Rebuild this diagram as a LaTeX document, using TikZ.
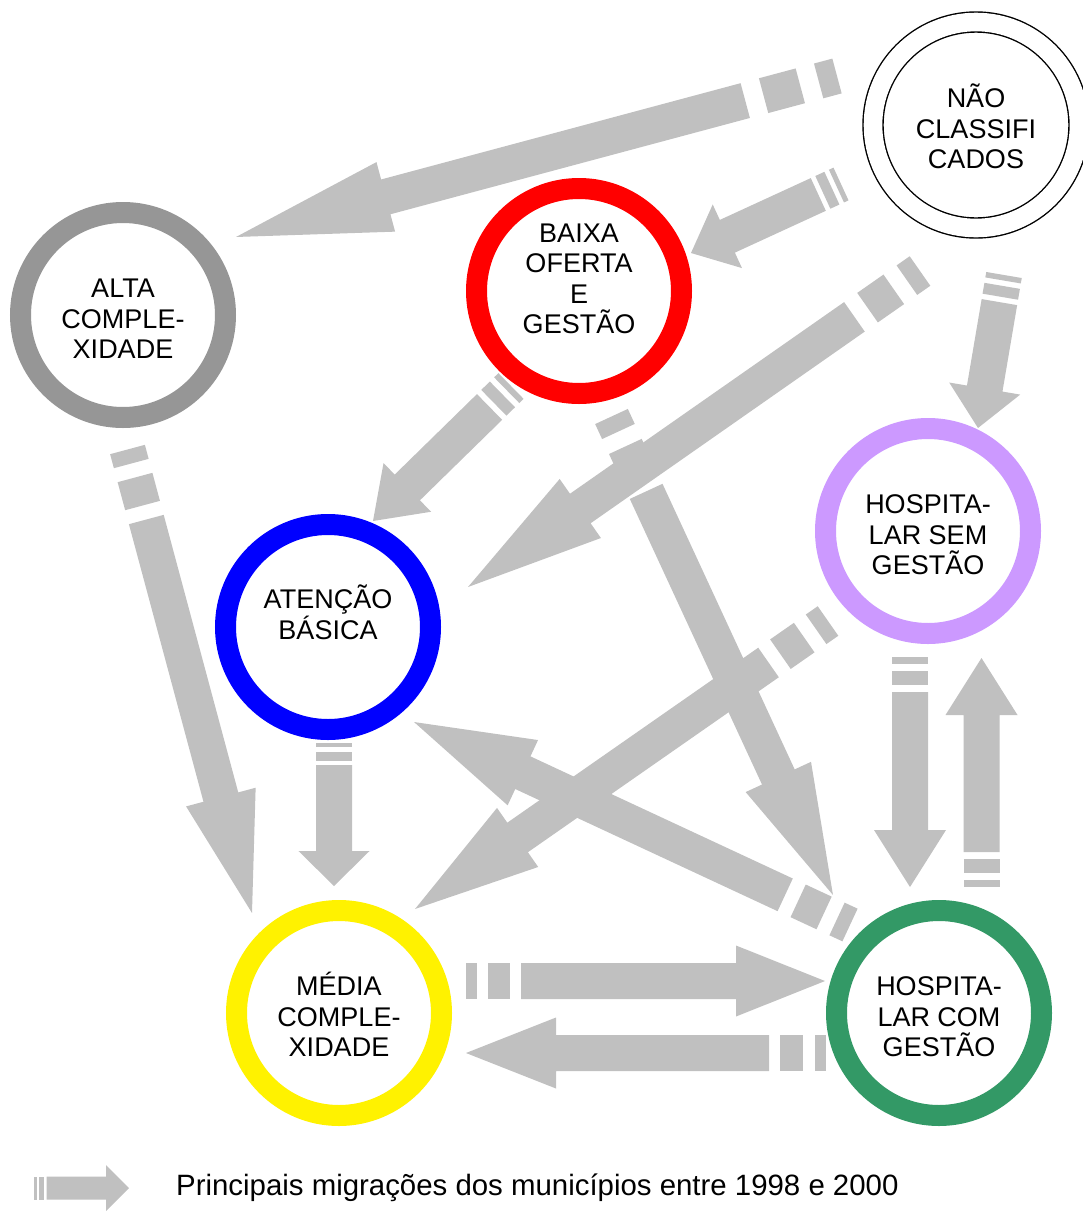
\documentclass[tikz,border=0pt]{standalone}
\usepackage{fontspec}
\setmainfont{Liberation Sans}
\usetikzlibrary{calc}

\definecolor{migray}{RGB}{192,192,192}
\definecolor{altagray}{RGB}{150,150,150}
\definecolor{hsemlilac}{RGB}{204,153,255}
\definecolor{hcomgreen}{RGB}{51,153,102}

% striped arrow: tail, tip, stripe unit, head length, body width, head width
\newcommand\migra[6]{%
  \path let \p1=(#1), \p2=(#2) in
    \pgfextra{\pgfmathsetmacro\mang{atan2(\y2-\y1,\x2-\x1)}\global\let\mang\mang
              \pgfmathsetmacro\mlen{veclen(\x2-\x1,\y2-\y1)}\global\let\mlen\mlen};
  \begin{scope}[shift={(#1)},rotate=\mang,x=1pt,y=1pt]
    \fill[migray] (0,-#5/2) rectangle (#3,#5/2);
    \fill[migray] (2*#3,-#5/2) rectangle (4*#3,#5/2);
    \fill[migray] (5*#3,-#5/2) -- (\mlen-#4,-#5/2) -- (\mlen-#4,-#6/2) -- (\mlen,0)
      -- (\mlen-#4,#6/2) -- (\mlen-#4,#5/2) -- (5*#3,#5/2) -- cycle;
  \end{scope}}

\begin{document}
\begin{tikzpicture}[x=1pt,y=-1pt,font=\fontsize{27}{30.5}\selectfont,
    ring/.style={circle,draw=#1,line width=21pt,minimum size=205pt,inner sep=0pt},
    lbl/.style={align=center,inner sep=0pt}]
  \useasboundingbox[fill=white] (0,0) rectangle (1083,1211);

  % ends of the migration arrows
  \coordinate (nc-alta-s) at (837,76);      \coordinate (nc-alta-e) at (236,237);
  \coordinate (nc-baixa-s) at (841,184);    \coordinate (nc-baixa-e) at (691,253);
  \coordinate (nc-aten-s) at (920,271);     \coordinate (nc-aten-e) at (468,587);
  \coordinate (nc-hsem-s) at (1004,275);    \coordinate (nc-hsem-e) at (978,428);
  \coordinate (baixa-hcom-s) at (611.5,416.5); \coordinate (baixa-hcom-e) at (833,895);
  \coordinate (baixa-aten-s) at (511,386);  \coordinate (baixa-aten-e) at (373,521);
  \coordinate (alta-media-s) at (127.5,449.5); \coordinate (alta-media-e) at (252,913);
  \coordinate (aten-media-s) at (334,743);  \coordinate (aten-media-e) at (334,886);
  \coordinate (hsem-hcom-s) at (910,657);   \coordinate (hsem-hcom-e) at (910,887);
  \coordinate (hcom-hsem-s) at (981.5,887); \coordinate (hcom-hsem-e) at (981.5,658);
  \coordinate (media-hcom-s) at (466,981);  \coordinate (media-hcom-e) at (825,981);
  \coordinate (hcom-media-s) at (826,1053); \coordinate (hcom-media-e) at (466,1053);
  \coordinate (hcom-aten-s) at (850,925);   \coordinate (hcom-aten-e) at (414,722);
  \coordinate (hsem-media-s) at (828,621);  \coordinate (hsem-media-e) at (415,909);
  \coordinate (leg-s) at (34,1188);         \coordinate (leg-e) at (129,1188);

  \migra{nc-alta-s}{nc-alta-e}{19}{155}{36}{72}
  \migra{nc-baixa-s}{nc-baixa-e}{5}{40}{36}{70}
  \migra{nc-aten-s}{nc-aten-e}{16}{137}{36}{72}
  \migra{nc-hsem-s}{nc-hsem-e}{5.5}{40}{36}{72}
  \migra{baixa-hcom-s}{baixa-hcom-e}{16.5}{130}{36}{72}
  \migra{baixa-aten-s}{baixa-aten-e}{6}{48}{36}{68}
  \migra{alta-media-s}{alta-media-e}{14.5}{120}{36}{72}
  \migra{aten-media-s}{aten-media-e}{4.4}{35}{36}{71}
  \migra{hsem-hcom-s}{hsem-hcom-e}{7}{57}{36}{72}
  \migra{hcom-hsem-s}{hcom-hsem-e}{7}{57}{36}{72}
  \migra{media-hcom-s}{media-hcom-e}{11}{89}{36}{71}
  \migra{hcom-media-s}{hcom-media-e}{11.4}{90}{36}{71}
  \migra{hcom-aten-s}{hcom-aten-e}{14.3}{120}{36}{72}
  \migra{hsem-media-s}{hsem-media-e}{14.5}{125}{36}{72}

  % groups
  \node[circle,draw,line width=1.4pt,double,double distance=18.6pt,minimum size=206pt] (nc) at (976,125) {};
  \node[ring=altagray] (alta) at (123,315) {};
  \node[ring=red] (baixa) at (579,291) {};
  \node[ring=blue] (aten) at (328,627) {};
  \node[ring=hsemlilac] (hsem) at (928,531) {};
  \node[ring=yellow] (media) at (339,1013) {};
  \node[ring=hcomgreen] (hcom) at (939,1013) {};

  \node[lbl] (ncT) at (976,126.5) {NÃO\\CLASSIFI\\CADOS};
  \node[lbl] (altaT) at (123,319) {ALTA\\COMPLE-\\XIDADE};
  \node[lbl] (baixaT) at (579,279) {BAIXA\\OFERTA\\E\\GESTÃO};
  \node[lbl] (atenT) at (328,612.5) {ATENÇÃO\\BÁSICA};
  \node[lbl] (hsemT) at (928,535) {HOSPITA-\\LAR SEM\\GESTÃO};
  \node[lbl] (mediaT) at (339,1014.5) {MÉDIA\\COMPLE-\\XIDADE};
  \node[lbl] (hcomT) at (939,1017) {HOSPITA-\\LAR COM\\GESTÃO};

  % legend
  \migra{leg-s}{leg-e}{2.5}{23}{23}{46}
  \node[anchor=base west,inner sep=0pt,font=\fontsize{29.4}{33}\selectfont] (legT) at (176,1195) {Principais migrações dos municípios entre 1998 e 2000};
\end{tikzpicture}
\end{document}
